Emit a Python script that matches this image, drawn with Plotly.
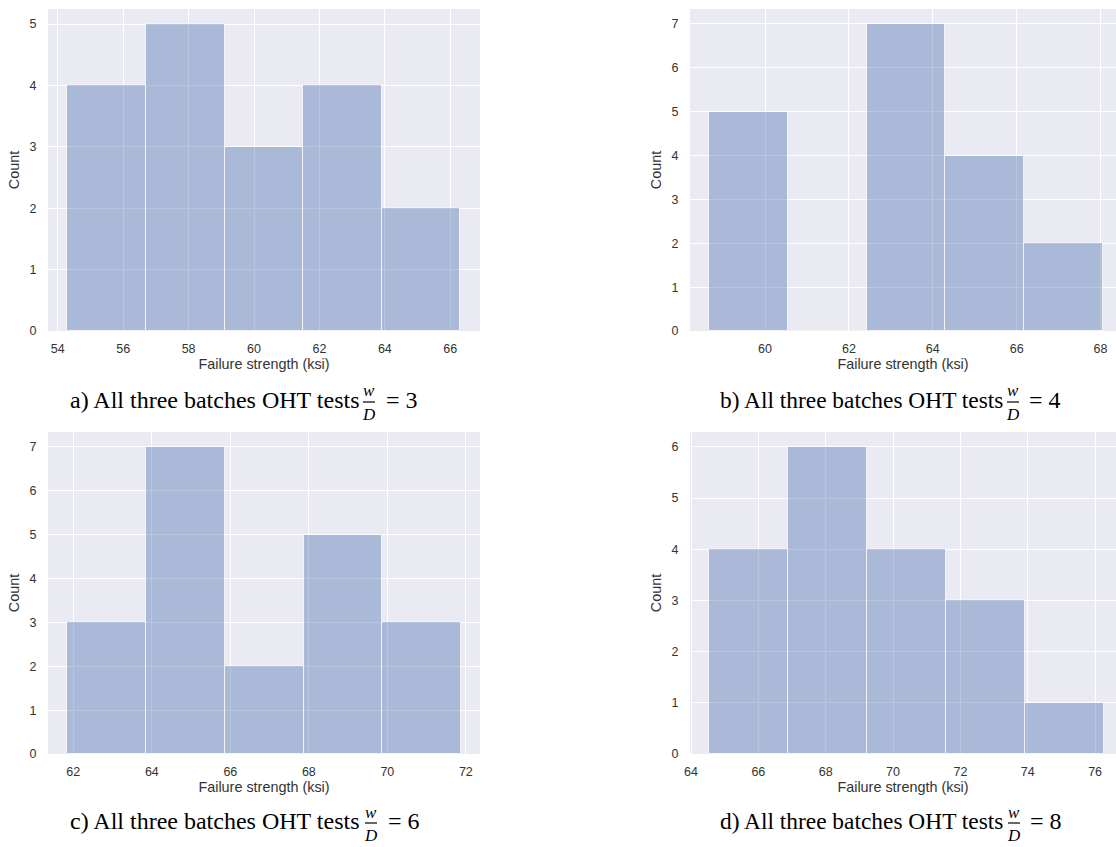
import plotly.graph_objects as go

W, H = 1116, 847

# ---------------- data ----------------
edges_a = [54.29, 56.69, 59.10, 61.50, 63.91, 66.31]
counts_a = [4, 5, 3, 4, 2]
edges_b = [58.66, 60.54, 62.42, 64.30, 66.18, 68.06]
counts_b = [5, 0, 7, 4, 2]
edges_c = [61.85, 63.86, 65.86, 67.87, 69.87, 71.88]
counts_c = [3, 7, 2, 5, 3]
edges_d = [64.53, 66.88, 69.22, 71.56, 73.91, 76.25]
counts_d = [4, 6, 4, 3, 1]

captions = ["a) All three batches OHT tests", "b) All three batches OHT tests",
            "c) All three batches OHT tests", "d) All three batches OHT tests"]
ratios = ["3", "4", "6", "8"]
x_title = "Failure strength (ksi)"
y_title = "Count"

# ---------------- layout (pixels) ----------------
panels = [
    dict(edges=edges_a, counts=counts_a, box=(48, 480, 9, 331), xr=(53.70, 66.91), yr=(0, 5.245)),
    dict(edges=edges_b, counts=counts_b, box=(690, 1116, 9, 331), xr=(58.21, 68.37), yr=(0, 7.34)),
    dict(edges=edges_c, counts=counts_c, box=(48, 480, 432, 754), xr=(61.355, 72.36), yr=(0, 7.34)),
    dict(edges=edges_d, counts=counts_d, box=(690, 1116, 432, 754), xr=(63.97, 76.62), yr=(0, 6.29)),
]
cap_pos = [  # main text right x, main line center y, fraction center x, "=" left x, font size
    (361, 400, 369, 384, 24),
    (1005, 400, 1013, 1027, 23.4),
    (361, 821, 371, 386, 24),
    (1005, 821, 1014, 1028, 23.4),
]


def xp(v):
    return v / W


def yp(v):
    return 1 - v / H


fig = go.Figure()
layout = dict(
    width=W, height=H, margin=dict(l=0, r=0, t=0, b=0, autoexpand=False),
    paper_bgcolor="white", plot_bgcolor="#EAEAF2", showlegend=False,
    font=dict(family="Liberation Sans, Arial, sans-serif", color="#262626"),
    bargap=0,
)
annotations = []
shapes = []
serif = "Liberation Serif, Times New Roman, serif"

for i, p in enumerate(panels):
    n = i + 1
    xa = "x" if n == 1 else f"x{n}"
    ya = "y" if n == 1 else f"y{n}"
    e = p["edges"]
    lefts = e[:-1]
    widths = [e[k + 1] - e[k] for k in range(len(e) - 1)]
    fig.add_trace(go.Bar(
        x=lefts, y=p["counts"], width=widths, offset=0,
        marker=dict(color="#4C72B0", line=dict(color="white", width=1)),
        opacity=0.4, xaxis=xa, yaxis=ya, hoverinfo="x+y",
    ))
    x0, x1, y0, y1 = p["box"]
    axkey = "xaxis" if n == 1 else f"xaxis{n}"
    aykey = "yaxis" if n == 1 else f"yaxis{n}"
    layout[axkey] = dict(
        domain=[xp(x0), xp(x1)], anchor=ya, range=list(p["xr"]), dtick=2,
        showgrid=True, gridcolor="white", gridwidth=1.3, zeroline=False,
        showline=False, ticks="outside", ticklen=6, tickcolor="rgba(0,0,0,0)",
        tickfont=dict(size=12.5, color="#333333"), automargin=False,
        title=dict(text=x_title, font=dict(size=14.4, color="#333333"), standoff=3),
    )
    layout[aykey] = dict(
        domain=[yp(y1), yp(y0)], anchor=xa, range=list(p["yr"]), dtick=1,
        showgrid=True, gridcolor="white", gridwidth=1.3, zeroline=False,
        showline=False, ticks="outside", ticklen=8, tickcolor="rgba(0,0,0,0)",
        tickfont=dict(size=12.5, color="#333333"), automargin=False,
        title=dict(text=y_title, font=dict(size=14.4, color="#333333"), standoff=6),
    )
    # caption
    tx, ty, fx, ex, fs = cap_pos[i]
    annotations.append(dict(
        text=captions[i], x=xp(tx), y=yp(ty), xref="paper", yref="paper",
        xanchor="right", yanchor="middle", showarrow=False,
        font=dict(family=serif, size=fs, color="black"),
    ))
    annotations.append(dict(
        text="<i>w</i>", x=xp(fx), y=yp(ty - 9), xref="paper", yref="paper",
        xanchor="center", yanchor="middle", showarrow=False,
        font=dict(family=serif, size=17, color="black"),
    ))
    annotations.append(dict(
        text="<i>D</i>", x=xp(fx), y=yp(ty + 14), xref="paper", yref="paper",
        xanchor="center", yanchor="middle", showarrow=False,
        font=dict(family=serif, size=17, color="black"),
    ))
    shapes.append(dict(
        type="line", xref="paper", yref="paper",
        x0=xp(fx - 6), x1=xp(fx + 6), y0=yp(ty + 2), y1=yp(ty + 2),
        line=dict(color="black", width=1.2),
    ))
    annotations.append(dict(
        text="= " + ratios[i], x=xp(ex), y=yp(ty), xref="paper", yref="paper",
        xanchor="left", yanchor="middle", showarrow=False,
        font=dict(family=serif, size=24, color="black"),
    ))

layout["annotations"] = annotations
layout["shapes"] = shapes
fig.update_layout(**layout)
fig.write_html("out.html", config={"displayModeBar": False},
               post_script="document.body.style.margin='0';document.body.style.overflow='hidden';")
